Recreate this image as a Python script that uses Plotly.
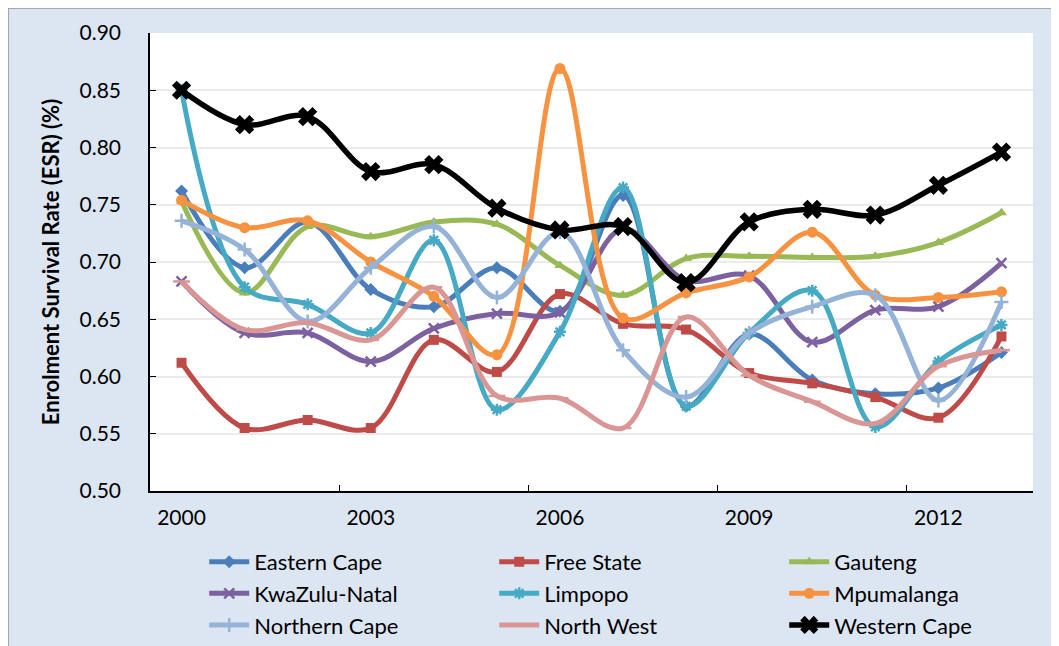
import plotly.graph_objects as go

years = [2000, 2001, 2002, 2003, 2004, 2005, 2006, 2007, 2008, 2009, 2010, 2011, 2012, 2013]

eastern_cape = [0.762, 0.695, 0.735, 0.676, 0.661, 0.695, 0.657, 0.758, 0.574, 0.637, 0.597, 0.585, 0.590, 0.621]
free_state = [0.612, 0.555, 0.562, 0.555, 0.632, 0.604, 0.672, 0.646, 0.641, 0.603, 0.594, 0.582, 0.564, 0.635]
gauteng = [0.753, 0.673, 0.731, 0.722, 0.735, 0.733, 0.697, 0.671, 0.703, 0.705, 0.704, 0.705, 0.717, 0.743]
kwazulu_natal = [0.683, 0.638, 0.638, 0.613, 0.642, 0.655, 0.656, 0.729, 0.684, 0.688, 0.630, 0.658, 0.661, 0.699]
limpopo = [0.850, 0.678, 0.663, 0.638, 0.719, 0.571, 0.639, 0.765, 0.574, 0.638, 0.675, 0.556, 0.613, 0.645]
mpumalanga = [0.754, 0.730, 0.736, 0.700, 0.670, 0.619, 0.869, 0.651, 0.673, 0.687, 0.726, 0.671, 0.669, 0.674]
northern_cape = [0.736, 0.711, 0.648, 0.695, 0.731, 0.669, 0.726, 0.623, 0.582, 0.638, 0.661, 0.671, 0.579, 0.665]
north_west = [0.683, 0.641, 0.647, 0.632, 0.678, 0.583, 0.581, 0.555, 0.652, 0.601, 0.578, 0.559, 0.609, 0.623]
western_cape = [0.850, 0.820, 0.827, 0.779, 0.785, 0.747, 0.728, 0.731, 0.682, 0.735, 0.746, 0.741, 0.767, 0.796]

series = [
    ("Eastern Cape", eastern_cape, "#4A7EBB", "diamond", 10, 5),
    ("Free State", free_state, "#BE4B48", "square", 10, 5),
    ("Gauteng", gauteng, "#98B954", "triangle-up", 10, 5),
    ("KwaZulu-Natal", kwazulu_natal, "#7D60A0", "x-thin", 10, 5),
    ("Limpopo", limpopo, "#46AAC5", "asterisk", 10, 5),
    ("Mpumalanga", mpumalanga, "#F69240", "circle", 11, 5),
    ("Northern Cape", northern_cape, "#95B3D7", "cross-thin", 10, 5),
    ("North West", north_west, "#D99694", "line-ew", 12, 5),
    ("Western Cape", western_cape, "#000000", "x", 17, 5.5),
]

FONT = "Lato"

fig = go.Figure()
for name, vals, color, sym, size, lw in series:
    marker = dict(symbol=sym, size=size, color=color)
    if sym in ("x-thin", "asterisk", "cross-thin", "line-ew"):
        marker["line"] = dict(color=color, width=2.5)
    else:
        marker["line"] = dict(color=color, width=0)
    fig.add_trace(go.Scatter(
        x=[str(y) for y in years], y=vals, name=name, mode="lines+markers",
        line=dict(color=color, width=lw, shape="spline", smoothing=1.0),
        marker=marker,
    ))

fig.update_layout(
    width=1051, height=638,
    margin=dict(l=142, r=26, t=25, b=155, autoexpand=False),
    paper_bgcolor="#DCE6F2",
    plot_bgcolor="white",
    font=dict(family=FONT, size=22, color="#000000"),
    showlegend=True,
    legend=dict(
        orientation="h", x=0.0614, xanchor="left", y=-0.109, yanchor="top",
        font=dict(family=FONT, size=22, color="#000000"),
        entrywidth=235, entrywidthmode="pixels",
        bgcolor="rgba(0,0,0,0)", itemwidth=40,
    ),
    shapes=[
        dict(type="rect", xref="paper", yref="paper", x0=-0.1608, x1=1.2, y0=-0.6, y1=1.0546,
             fillcolor="rgba(0,0,0,0)", line=dict(color="#A6A6A6", width=2), layer="below"),
    ],
)

fig.update_xaxes(
    type="category", tickmode="linear", tick0=0, dtick=3,
    tickson="boundaries", ticks="inside", ticklen=6, tickcolor="#000000",
    showline=True, linecolor="#000000", linewidth=1.5,
    showgrid=False, zeroline=False, automargin=False,
    tickfont=dict(family=FONT, size=21), ticklabelstandoff=7,
    range=[-0.5, 13.5],
)
fig.update_yaxes(
    range=[0.5, 0.9], dtick=0.05, tickformat=".2f",
    ticks="inside", ticklen=6, tickcolor="#000000",
    showline=True, linecolor="#000000", linewidth=1.5,
    showgrid=True, gridcolor="#EBEBEB", gridwidth=1.5, zeroline=False, automargin=False,
    tickfont=dict(family=FONT, size=21), ticklabelstandoff=23,
    title=dict(text="<b>Enrolment Survival Rate (ESR) (%)</b>", font=dict(family=FONT, size=22), standoff=14),
)

fig.write_html("out.html")
